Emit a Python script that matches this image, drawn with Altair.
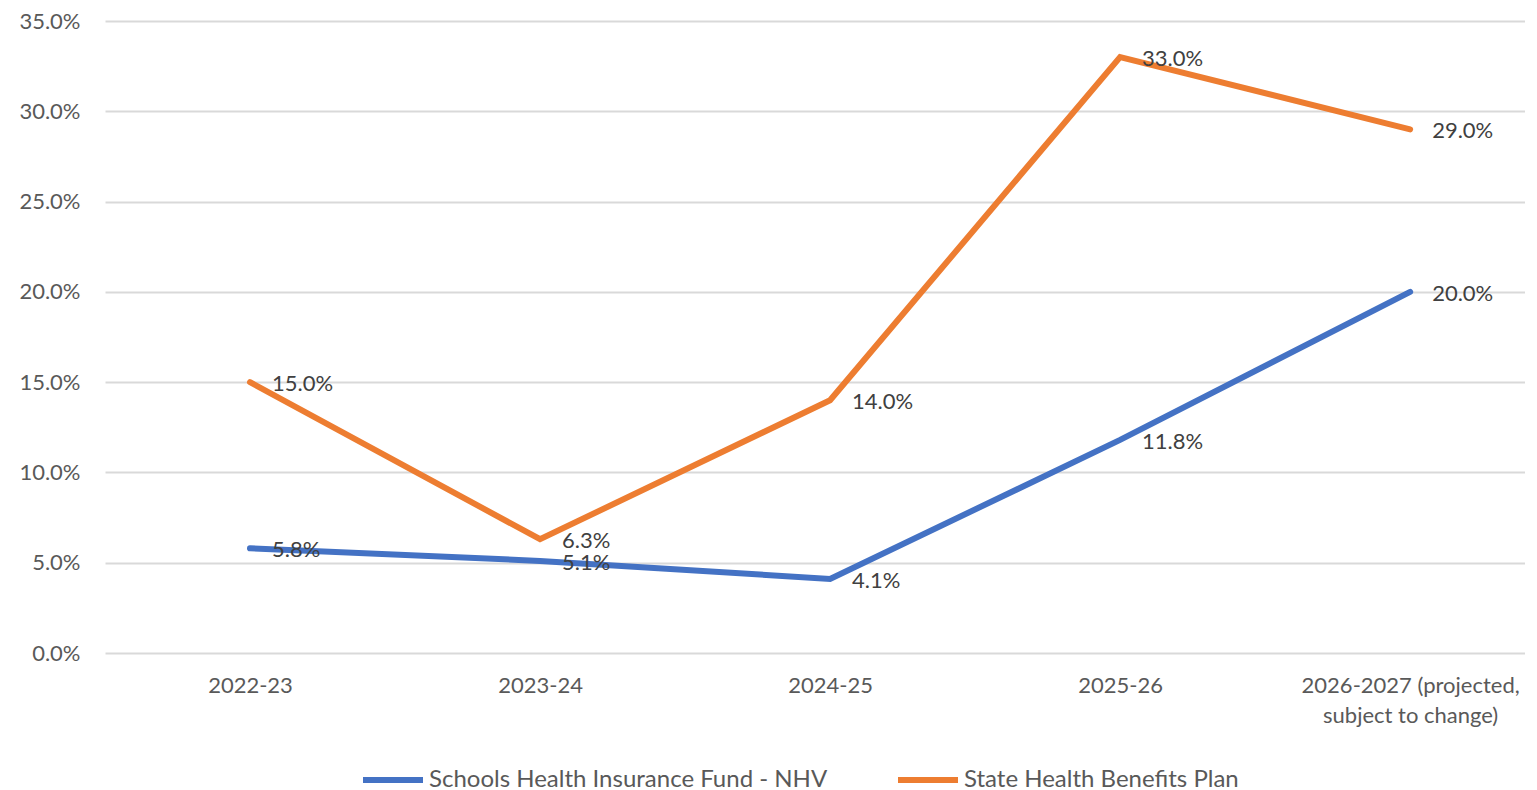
import altair as alt
import pandas as pd

years = ["2022-23", "2023-24", "2024-25", "2025-26",
         "2026-2027 (projected, subject to change)"]
shif_nhv = [5.8, 5.1, 4.1, 11.8, 20.0]
shbp = [15.0, 6.3, 14.0, 33.0, 29.0]
series_names = ["Schools Health Insurance Fund - NHV", "State Health Benefits Plan"]
series_colors = ["#4472C4", "#ED7D31"]
y_ticks = [0, 0.05, 0.10, 0.15, 0.20, 0.25, 0.30, 0.35]

rows = []
for name, vals in zip(series_names, [shif_nhv, shbp]):
    for i, (yr, v) in enumerate(zip(years, vals)):
        rows.append({"year": yr, "series": name, "value": v / 100, "order": i})
df = pd.DataFrame(rows)

FONT = "Lato"

x_enc = alt.X(
    "year:O", sort=years,
    scale=alt.Scale(type="point", padding=0.448, align=0.558),
    axis=alt.Axis(
        title=None, domain=False, ticks=False, labelAngle=0,
        labelFontSize=22, labelColor="#595959", labelFont=FONT,
        labelPadding=22, labelLineHeight=30, labelLimit=400,
        labelExpr="datum.label == '2026-2027 (projected, subject to change)' ? ['2026-2027 (projected,', 'subject to change)'] : datum.label",
    ),
)
y_enc = alt.Y(
    "value:Q",
    scale=alt.Scale(domain=[0, 0.35], nice=False),
    axis=alt.Axis(
        title=None, domain=False, ticks=False, values=y_ticks, format=".1%",
        labelFontSize=22, labelColor="#595959", labelFont=FONT,
        labelPadding=25, minExtent=97, maxExtent=97,
        gridColor="#D9D9D9", gridWidth=2,
    ),
)

lines = alt.Chart(df).mark_line(strokeWidth=6, strokeCap="round").encode(
    x=x_enc,
    y=y_enc,
    color=alt.Color(
        "series:N",
        scale=alt.Scale(domain=series_names, range=series_colors),
        legend=alt.Legend(
            title=None, orient="none", legendX=255, legendY=726,
            direction="horizontal",
            symbolType="stroke", symbolSize=3600, symbolStrokeWidth=6,
            labelFontSize=24, labelFont=FONT, labelColor="#595959",
            labelLimit=600, columnPadding=58, labelOffset=3,
        ),
    ),
    order="order:Q",
)

labels = alt.Chart(df).mark_text(
    align="left", baseline="middle", dx=22, dy=2,
    fontSize=22, font=FONT, color="#404040",
).encode(
    x=alt.X("year:O", sort=years),
    y="value:Q",
    text=alt.Text("value:Q", format=".1%"),
)

chart = (lines + labels).properties(
    width=1420, height=632,
    padding={"left": 0, "right": 0, "top": 2, "bottom": 0},
).configure_view(stroke=None)

chart.save("out.html", embed_options={"renderer": "svg", "actions": False})
